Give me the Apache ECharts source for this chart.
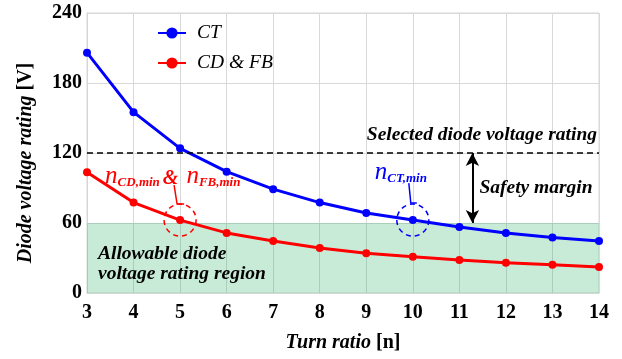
<!DOCTYPE html>
<html>
<head>
<meta charset="utf-8">
<script src="https://cdn.jsdelivr.net/npm/echarts@6/dist/echarts.min.js"></script>
<style>
html,body{margin:0;padding:0;background:#fff}
#container{width:622px;height:359px}
</style>
</head>
<body>
<div id="container"></div>
<script>
// data
var turnRatio = [3, 4, 5, 6, 7, 8, 9, 10, 11, 12, 13, 14];
var ctValues = [206, 155, 124, 104, 89, 77.5, 68.5, 62.5, 56.5, 51.5, 47.5, 44.5];
var cdfbValues = [103.5, 77.5, 62.5, 51.5, 44.5, 38.5, 34, 31, 28.3, 26, 24.3, 22.3];
var seriesNames = ['CT', 'CD & FB'];
var selectedRating = 120;
var allowableMax = 60;
var marginAt = 11.28;
var nCdFbMin = 5;
var nCtMin = 10;

var serif = 'Liberation Serif, Times New Roman, serif';
var dom = document.getElementById('container');
var myChart = echarts.init(dom, null, {renderer: 'canvas'});

function pairs(vals) {
    return turnRatio.map(function (n, i) { return [n, vals[i]]; });
}

var option = {
    animation: false,
    grid: {left: 87, right: 23, top: 13, bottom: 66, show: true, borderColor: '#d6d6d6', borderWidth: 1},
    legend: {
        orient: 'vertical',
        left: 152,
        top: 18,
        itemWidth: 28,
        itemHeight: 14,
        itemGap: 10,
        data: seriesNames,
        textStyle: {fontFamily: serif, fontStyle: 'italic', fontSize: 19.5, color: '#000', padding: [0, 0, 0, 6]}
    },
    xAxis: {
        type: 'value',
        min: 3,
        max: 14,
        interval: 1,
        name: '{a|Turn ratio }{b|[n]}',
        nameLocation: 'middle',
        nameGap: 40,
        nameTextStyle: {
            rich: {
                a: {fontFamily: serif, fontStyle: 'italic', fontWeight: 'bold', fontSize: 20, color: '#000'},
                b: {fontFamily: serif, fontWeight: 'bold', fontSize: 20, color: '#000'}
            }
        },
        axisLine: {lineStyle: {color: '#d6d6d6'}},
        axisTick: {show: false},
        axisLabel: {fontFamily: serif, fontWeight: 'bold', fontSize: 20, color: '#000', margin: 10},
        splitLine: {lineStyle: {color: '#d9d9d9'}}
    },
    yAxis: {
        type: 'value',
        min: 0,
        max: 240,
        interval: 60,
        name: '{a|Diode voltage rating }{b|[V]}',
        nameLocation: 'middle',
        nameGap: 51,
        nameTextStyle: {
            padding: [0, 20, 0, 0],
            rich: {
                a: {fontFamily: serif, fontStyle: 'italic', fontWeight: 'bold', fontSize: 20, color: '#000'},
                b: {fontFamily: serif, fontWeight: 'bold', fontSize: 20, color: '#000'}
            }
        },
        axisLine: {show: true, lineStyle: {color: '#d6d6d6'}},
        axisTick: {show: false},
        axisLabel: {fontFamily: serif, fontWeight: 'bold', fontSize: 20, color: '#000', margin: 5},
        splitLine: {lineStyle: {color: '#d9d9d9'}}
    },
    series: [
        {
            name: seriesNames[0],
            type: 'line',
            z: 2,
            data: pairs(ctValues),
            symbol: 'circle',
            symbolSize: 8,
            color: '#0000ff',
            lineStyle: {width: 3}
        },
        {
            name: seriesNames[1],
            type: 'line',
            z: 2,
            data: pairs(cdfbValues),
            symbol: 'circle',
            symbolSize: 8,
            color: '#ff0000',
            lineStyle: {width: 3}
        },
        {
            // green region, drawn over the lines
            type: 'line',
            z: 3,
            data: [],
            markArea: {
                silent: true,
                itemStyle: {color: 'rgba(36,176,96,0.25)'},
                data: [[{yAxis: 0}, {yAxis: allowableMax}]]
            }
        },
        {
            // annotations
            type: 'line',
            z: 5,
            data: [],
            markLine: {
                silent: true,
                symbol: ['none', 'none'],
                label: {show: false},
                data: [
                    {yAxis: selectedRating, lineStyle: {color: '#000', width: 1.5, type: [6, 4]}},
                    [
                        {coord: [marginAt, selectedRating], symbol: 'arrow', symbolSize: [10, 13]},
                        {coord: [marginAt, allowableMax], symbol: 'arrow', symbolSize: [10, 13]}
                    ]
                ],
                lineStyle: {color: '#000', width: 2, type: 'solid'}
            },
            markPoint: {
                silent: true,
                symbol: 'circle',
                symbolSize: 32,
                label: {show: false},
                data: [
                    {coord: [nCdFbMin, cdfbValues[turnRatio.indexOf(nCdFbMin)]],
                        itemStyle: {color: 'transparent', borderColor: '#ff0000', borderWidth: 1.5, borderType: [5, 4]}},
                    {coord: [nCtMin, ctValues[turnRatio.indexOf(nCtMin)]],
                        itemStyle: {color: 'transparent', borderColor: '#0000ff', borderWidth: 1.5, borderType: [5, 4]}}
                ]
            }
        }
    ]
};
myChart.setOption(option);

// texts and leader lines placed from the data points
var pRed = myChart.convertToPixel({gridIndex: 0}, [nCdFbMin, cdfbValues[turnRatio.indexOf(nCdFbMin)]]);
var pBlue = myChart.convertToPixel({gridIndex: 0}, [nCtMin, ctValues[turnRatio.indexOf(nCtMin)]]);
var pSel = myChart.convertToPixel({gridIndex: 0}, [14, selectedRating]);
var pMargin = myChart.convertToPixel({gridIndex: 0}, [marginAt, (selectedRating + allowableMax) / 2]);
var pArea = myChart.convertToPixel({gridIndex: 0}, [3, allowableMax / 2]);

function subRich(color) {
    return {
        n: {fontFamily: serif, fontStyle: 'italic', fontSize: 25, fill: color, verticalAlign: 'bottom', lineHeight: 28},
        s: {fontFamily: serif, fontStyle: 'italic', fontWeight: 'bold', fontSize: 13, fill: color, verticalAlign: 'bottom', lineHeight: 28},
        amp: {fontFamily: serif, fontStyle: 'italic', fontWeight: 'bold', fontSize: 20, fill: color, verticalAlign: 'bottom', lineHeight: 28, padding: [0, 8, 0, 3]}
    };
}
var noteFont = {fontFamily: serif, fontStyle: 'italic', fontWeight: 'bold', fontSize: 19.5, fill: '#000'};

myChart.setOption({
    graphic: [
        {type: 'text', z: 10, x: pSel[0] - 2, y: pSel[1] - 8,
            style: Object.assign({text: 'Selected diode voltage rating', align: 'right', verticalAlign: 'bottom'}, noteFont)},
        {type: 'text', z: 10, x: pMargin[0] + 7, y: pMargin[1],
            style: Object.assign({text: 'Safety margin', verticalAlign: 'middle'}, noteFont)},
        {type: 'text', z: 10, x: pArea[0] + 11, y: pArea[1] - 14,
            style: Object.assign({text: 'Allowable diode\nvoltage rating region', lineHeight: 20, fill: '#1a1a1a'}, noteFont)},
        {type: 'text', z: 10, x: pRed[0] - 75, y: pRed[1] - 59,
            style: {text: '{n|n}{s|CD,min}{amp|&}{n|n}{s|FB,min}', rich: subRich('#ff0000')}},
        {type: 'polyline', z: 10, shape: {points: [[pRed[0] - 6, pRed[1] - 35], [pRed[0] - 3, pRed[1] - 16], [pRed[0] + 4, pRed[1] - 16]]},
            style: {stroke: '#ff0000', lineWidth: 1.5, fill: null}},
        {type: 'text', z: 10, x: pBlue[0] - 38, y: pBlue[1] - 63,
            style: {text: '{n|n}{s|CT,min}', rich: subRich('#0000ff')}},
        {type: 'polyline', z: 10, shape: {points: [[pBlue[0] - 4, pBlue[1] - 37], [pBlue[0] - 2, pBlue[1] - 17], [pBlue[0] + 4, pBlue[1] - 17]]},
            style: {stroke: '#0000ff', lineWidth: 1.5, fill: null}}
    ]
});

window.addEventListener('resize', function () {
    myChart.resize();
});
</script>
</body>
</html>
